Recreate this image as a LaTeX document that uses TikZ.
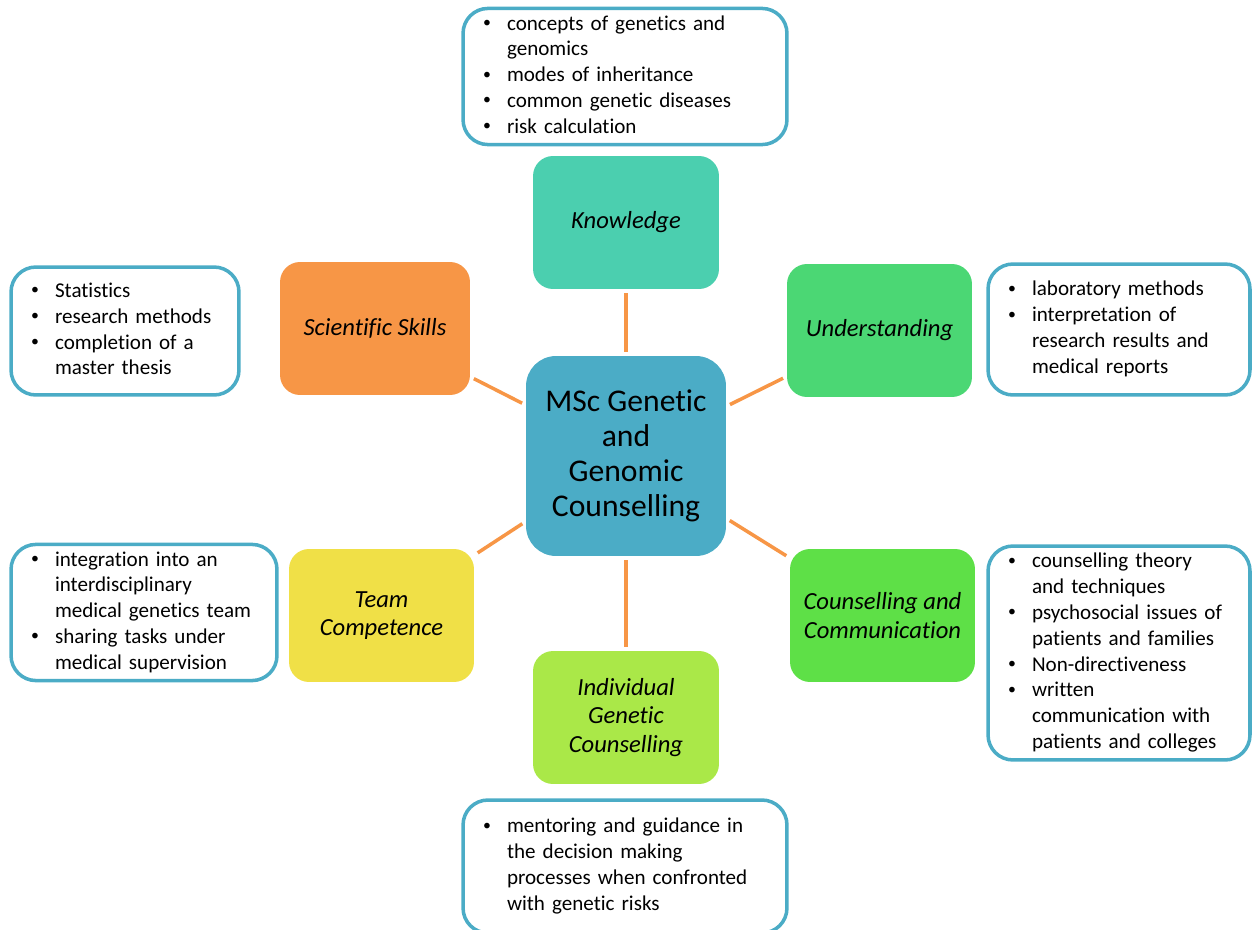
\documentclass[tikz,border=0pt]{standalone}
\usepackage{fontspec}
\setmainfont{Carlito}[Ligatures=NoCommon]
\usepackage{tikz}
\usetikzlibrary{positioning}
\definecolor{cmain}{HTML}{4BACC6}
\definecolor{cknow}{HTML}{4BCFAF}
\definecolor{cund}{HTML}{4BD774}
\definecolor{ccom}{HTML}{5EE047}
\definecolor{cind}{HTML}{AAE848}
\definecolor{cteam}{HTML}{F0E047}
\definecolor{csci}{HTML}{F79646}
\newcommand{\bdot}{\raisebox{0.12em}{\fontsize{9}{9}\selectfont\textbullet}}
\newcommand{\blist}[1]{\noindent\begin{tabular}{@{}p{0.48cm}@{}l@{}}#1\end{tabular}}
\tikzset{
   cat/.style={rounded corners=0.4cm, minimum width=3.72cm, minimum height=2.66cm,
      align=center, inner sep=2pt, font=\fontsize{14}{16}\selectfont\itshape},
   info/.style={draw=cmain, line width=2pt, fill=white, rounded corners=0.5cm,
      inner xsep=0.4cm, inner ysep=2pt, align=left,
      font=\fontsize{12}{14.7}\selectfont},
   link/.style={draw=csci, line width=2pt, shorten >=0.08cm, shorten <=0.08cm}
}

\begin{document}
\begin{tikzpicture}[x=0.02cm, y=-0.02cm]
   \useasboundingbox (0,0) rectangle (1253,929);
   \clip (0,0) rectangle (1253,929);

   % programme
   \node[fill=cmain, rounded corners=0.6cm, minimum width=4cm, minimum height=4cm,
      align=center, inner sep=2pt, font=\fontsize{18}{20}\selectfont]
      (c0) at (626,456) {MSc Genetic\\and\\Genomic\\Counselling};

   % competence areas
   \node[cat, fill=cknow]                         (k0)  at (626,222.5)   {Knowledge};
   \node[cat, fill=csci, minimum width=3.8cm]     (s0)  at (375,328.5)   {Scientific Skills};
   \node[cat, fill=cund, minimum width=3.7cm]     (u0)  at (879.5,330.5) {Understanding};
   \node[cat, fill=cteam, minimum width=3.7cm]    (t0)  at (381.5,615.5) {Team\\Competence};
   \node[cat, fill=ccom, minimum width=3.7cm]     (cc0) at (882.5,615.5) {Counselling and\\Communication};
   \node[cat, fill=cind]                          (i0)  at (626,717.5)   {Individual\\Genetic\\Counselling};

   \draw[link] (c0) -- (k0);
   \draw[link] (c0) -- (s0);
   \draw[link] (c0) -- (u0);
   \draw[link] (c0) -- (t0);
   \draw[link] (c0) -- (cc0);
   \draw[link] (c0) -- (i0);

   % contents
   \node[info, text width=5.68cm, minimum height=2.66cm] (k1) at (625,76.5)
      {\blist{\bdot & concepts of genetics and\\
                    & genomics\\
              \bdot & modes of inheritance\\
              \bdot & common genetic diseases\\
              \bdot & risk calculation}};
   \node[info, text width=3.76cm, minimum height=2.56cm] (s1) at (125,331)
      {\blist{\bdot & Statistics\\
              \bdot & research methods\\
              \bdot & completion of a\\
                    & master thesis}};
   \node[info, text width=4.44cm, minimum height=2.62cm] (u1) at (1119,329.5)
      {\blist{\bdot & laboratory methods\\
              \bdot & interpretation of\\
                    & research results and\\
                    & medical reports}};
   \node[info, text width=4.52cm, minimum height=2.66cm] (t1) at (144,612.5)
      {\blist{\bdot & integration into an\\
                    & interdisciplinary\\
                    & medical genetics team\\
              \bdot & sharing tasks under\\
                    & medical supervision}};
   \node[info, text width=4.44cm, minimum height=4.28cm] (cc1) at (1119,653)
      {\blist{\bdot & counselling theory\\
                    & and techniques\\
              \bdot & psychosocial issues of\\
                    & patients and families\\
              \bdot & Non-directiveness\\
              \bdot & written\\
                    & communication with\\
                    & patients and colleges}};
   \node[info, text width=5.68cm, minimum height=2.66cm] (i1) at (625,866.5)
      {\blist{\bdot & mentoring and guidance in\\
                    & the decision making\\
                    & processes when confronted\\
                    & with genetic risks}};
\end{tikzpicture}
\end{document}
